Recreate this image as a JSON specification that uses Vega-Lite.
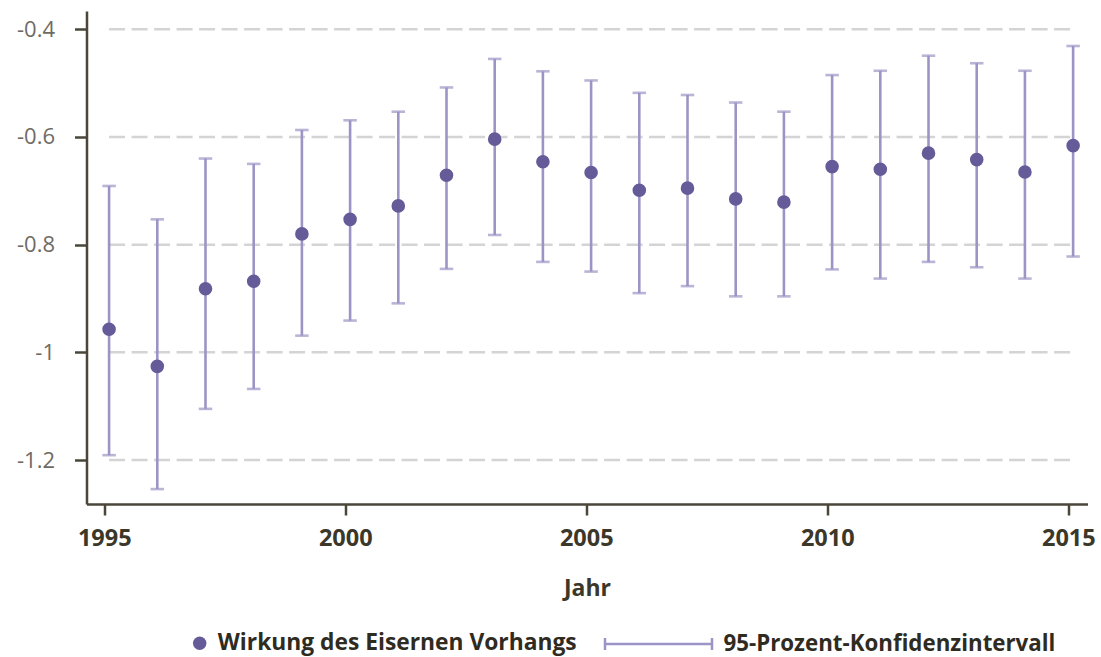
{
  "$schema": "https://vega.github.io/schema/vega-lite/v6.json",
  "width": 1001,
  "height": 493,
  "autosize": {"type": "none"},
  "padding": {"left": 86.5, "top": 11, "right": 13.5, "bottom": 153},
  "background": "white",
  "config": {
    "view": {"stroke": null},
    "font": "Open Sans",
    "axisX": {
      "format": "d", "grid": false,
      "domainColor": "#4a463a", "domainWidth": 2.5, "tickColor": "#4a463a", "tickWidth": 2.5, "tickSize": 11,
      "labelFont": "Open Sans", "labelFontSize": 23.5, "labelFontWeight": "bold", "labelColor": "#3b3729", "labelPadding": 11,
      "labelFlush": false, "labelOverlap": false,
      "titleFont": "Open Sans", "titleFontSize": 23, "titleFontWeight": "bold", "titleColor": "#3b3729", "titlePadding": 28
    },
    "axisY": {
      "labelExpr": "'' + datum.value", "grid": false,
      "domainColor": "#4a463a", "domainWidth": 2.5, "tickColor": "#4a463a", "tickWidth": 2.5, "tickSize": 12,
      "labelFont": "Open Sans", "labelFontSize": 22, "labelColor": "#6f6b63", "labelPadding": 20
    }
  },
  "datasets": {
    "est": [
      {"year": 1995, "est": -0.957, "lo": -1.191, "hi": -0.691},
      {"year": 1996, "est": -1.026, "lo": -1.254, "hi": -0.753},
      {"year": 1997, "est": -0.882, "lo": -1.105, "hi": -0.640},
      {"year": 1998, "est": -0.868, "lo": -1.068, "hi": -0.650},
      {"year": 1999, "est": -0.780, "lo": -0.969, "hi": -0.587},
      {"year": 2000, "est": -0.753, "lo": -0.941, "hi": -0.569},
      {"year": 2001, "est": -0.728, "lo": -0.909, "hi": -0.553},
      {"year": 2002, "est": -0.671, "lo": -0.845, "hi": -0.508},
      {"year": 2003, "est": -0.604, "lo": -0.782, "hi": -0.455},
      {"year": 2004, "est": -0.646, "lo": -0.832, "hi": -0.478},
      {"year": 2005, "est": -0.666, "lo": -0.850, "hi": -0.495},
      {"year": 2006, "est": -0.699, "lo": -0.890, "hi": -0.518},
      {"year": 2007, "est": -0.695, "lo": -0.877, "hi": -0.522},
      {"year": 2008, "est": -0.715, "lo": -0.896, "hi": -0.536},
      {"year": 2009, "est": -0.721, "lo": -0.896, "hi": -0.553},
      {"year": 2010, "est": -0.655, "lo": -0.846, "hi": -0.485},
      {"year": 2011, "est": -0.660, "lo": -0.863, "hi": -0.477},
      {"year": 2012, "est": -0.630, "lo": -0.832, "hi": -0.449},
      {"year": 2013, "est": -0.642, "lo": -0.842, "hi": -0.463},
      {"year": 2014, "est": -0.665, "lo": -0.863, "hi": -0.477},
      {"year": 2015, "est": -0.616, "lo": -0.822, "hi": -0.431}
    ],
    "grid": [{"v": -0.4}, {"v": -0.6}, {"v": -0.8}, {"v": -1.0}, {"v": -1.2}]
  },
  "layer": [
    {
      "data": {"name": "grid"},
      "mark": {"type": "rule", "color": "#d4d4d4", "strokeWidth": 2.5, "strokeDash": [16, 6.5], "xOffset": 4.8, "x2Offset": 4.8},
      "encoding": {
        "x": {"datum": 1995, "type": "quantitative", "scale": {"domain": [1994.631, 2015.398], "nice": false, "zero": false},
              "axis": {"values": [1995, 2000, 2005, 2010, 2015], "title": "Jahr"}},
        "x2": {"datum": 2015},
        "y": {"field": "v", "type": "quantitative", "scale": {"domain": [-1.2817, -0.366], "nice": false, "zero": false},
              "axis": {"values": [-1.2, -1, -0.8, -0.6, -0.4], "title": null}}
      }
    },
    {
      "data": {"name": "est"},
      "mark": {"type": "rule", "strokeWidth": 2.6, "xOffset": 4.8},
      "encoding": {
        "x": {"field": "year", "type": "quantitative", "scale": {"domain": [1994.631, 2015.398], "nice": false, "zero": false},
              "axis": {"values": [1995, 2000, 2005, 2010, 2015], "title": "Jahr"}},
        "y": {"field": "lo", "type": "quantitative", "scale": {"domain": [-1.2817, -0.366], "nice": false, "zero": false},
              "axis": {"values": [-1.2, -1, -0.8, -0.6, -0.4], "title": null}},
        "y2": {"field": "hi"},
        "stroke": {
          "datum": "95-Prozent-Konfidenzintervall",
          "scale": {"range": ["#9d94c5"]},
          "legend": {
            "orient": "none", "legendX": 517, "legendY": 578, "title": null, "padding": 0,
            "symbolType": "M-1,-0.11V0.11M-1,0H1M1,-0.11V0.11", "symbolSize": 11449, "symbolStrokeWidth": 2.5,
            "symbolFillColor": "transparent",
            "labelFont": "Open Sans", "labelFontSize": 22.3, "labelFontWeight": "bold", "labelColor": "#2f2b1f", "labelOffset": 10, "labelLimit": 0
          }
        }
      }
    },
    {
      "data": {"name": "est"},
      "mark": {"type": "tick", "orient": "horizontal", "size": 13.5, "thickness": 2.6, "color": "#9d94c5", "xOffset": 4.8},
      "encoding": {
        "x": {"field": "year", "type": "quantitative", "scale": {"domain": [1994.631, 2015.398], "nice": false, "zero": false},
              "axis": {"values": [1995, 2000, 2005, 2010, 2015], "title": "Jahr"}},
        "y": {"field": "lo", "type": "quantitative", "scale": {"domain": [-1.2817, -0.366], "nice": false, "zero": false},
              "axis": {"values": [-1.2, -1, -0.8, -0.6, -0.4], "title": null}}
      }
    },
    {
      "data": {"name": "est"},
      "mark": {"type": "tick", "orient": "horizontal", "size": 13.5, "thickness": 2.6, "color": "#9d94c5", "xOffset": 4.8},
      "encoding": {
        "x": {"field": "year", "type": "quantitative", "scale": {"domain": [1994.631, 2015.398], "nice": false, "zero": false},
              "axis": {"values": [1995, 2000, 2005, 2010, 2015], "title": "Jahr"}},
        "y": {"field": "hi", "type": "quantitative", "scale": {"domain": [-1.2817, -0.366], "nice": false, "zero": false},
              "axis": {"values": [-1.2, -1, -0.8, -0.6, -0.4], "title": null}}
      }
    },
    {
      "data": {"name": "est"},
      "mark": {"type": "point", "filled": true, "size": 185, "opacity": 1, "strokeWidth": 0, "xOffset": 4.8},
      "encoding": {
        "x": {"field": "year", "type": "quantitative", "scale": {"domain": [1994.631, 2015.398], "nice": false, "zero": false},
              "axis": {"values": [1995, 2000, 2005, 2010, 2015], "title": "Jahr"}},
        "y": {"field": "est", "type": "quantitative", "scale": {"domain": [-1.2817, -0.366], "nice": false, "zero": false},
              "axis": {"values": [-1.2, -1, -0.8, -0.6, -0.4], "title": null}},
        "fill": {
          "datum": "Wirkung des Eisernen Vorhangs",
          "scale": {"range": ["#655b99"]},
          "legend": {
            "orient": "none", "legendX": 101.8, "legendY": 620.9, "title": null, "padding": 0,
            "symbolType": "circle", "symbolSize": 180, "symbolStrokeWidth": 0,
            "labelFont": "Open Sans", "labelFontSize": 22.8, "labelFontWeight": "bold", "labelColor": "#2f2b1f", "labelOffset": 6.7, "labelLimit": 0
          }
        }
      }
    }
  ]
}
